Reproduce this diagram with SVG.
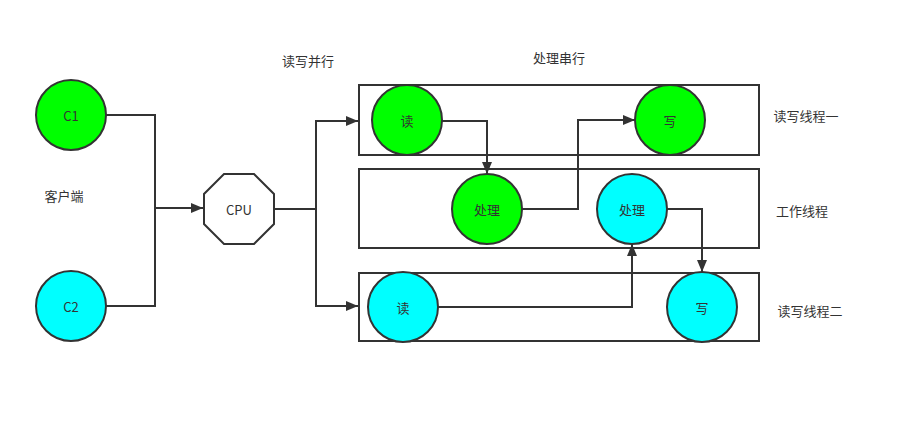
<svg xmlns="http://www.w3.org/2000/svg" width="917" height="428" viewBox="0 0 917 428">
<style>
.t{font-family:"Noto Sans CJK SC","Liberation Sans",sans-serif;font-size:13px;fill:#333;text-anchor:middle;dominant-baseline:central}
.c{stroke:#333;stroke-width:2}
.g{fill:#00ff00}
.b{fill:#00ffff}
.box{fill:none;stroke:#333;stroke-width:2}
.e{fill:none;stroke:#333;stroke-width:2}
</style>
<defs>
<marker id="a" markerUnits="userSpaceOnUse" markerWidth="12" markerHeight="10" viewBox="0 0 12 10" refX="12" refY="5" orient="auto">
<path d="M0,0 L12,5 L0,10 Z" fill="#333"/>
</marker>
</defs>
<rect width="917" height="428" fill="#fff"/>
<g id="labels">
<text class="t" x="308" y="60">读写并行</text>
<text class="t" x="559" y="57">处理串行</text>
<text class="t" x="64" y="195">客户端</text>
<text class="t" x="806" y="115">读写线程一</text>
<text class="t" x="802" y="210">工作线程</text>
<text class="t" x="810" y="310">读写线程二</text>
</g>
<g id="box1"><rect class="box" x="359" y="85" width="400" height="70"/></g>
<g id="box2"><rect class="box" x="359" y="169" width="400" height="79"/></g>
<g id="box3"><rect class="box" x="359" y="273" width="400" height="68"/></g>
<g id="connectors">
<polyline class="e" points="106,115 155,115 155,208"/>
<polyline class="e" points="106,306 155,306 155,208"/>
<line class="e" x1="155" y1="208" x2="203" y2="208" stroke-width="2.5" marker-end="url(#a)"/>
<polyline class="e" points="274,209 316,209"/>
<polyline class="e" points="316,209 316,121 358,121" marker-end="url(#a)"/>
<polyline class="e" points="316,209 316,306 358,306" marker-end="url(#a)"/>
<polyline class="e" points="442,121 487,121 487,174" marker-end="url(#a)"/>
<polyline class="e" points="522,209 578,209 578,120 635,120" marker-end="url(#a)"/>
<polyline class="e" points="438,307 632,307 632,244" marker-end="url(#a)"/>
<polyline class="e" points="667,209 702,209 702,272" marker-end="url(#a)"/>
</g>
<g id="C1"><circle class="c g" cx="71" cy="115" r="35"/><text class="t" x="71" y="115">C1</text></g>
<g id="C2"><circle class="c b" cx="71" cy="306" r="35"/><text class="t" x="71" y="306">C2</text></g>
<g id="CPU"><polygon class="c" fill="#fff" points="224,174 254,174 274,194 274,224 254,244 224,244 204,224 204,194"/><text class="t" x="239" y="209">CPU</text></g>
<g id="read1"><circle class="c g" cx="407" cy="120" r="35"/><text class="t" x="407" y="120">读</text></g>
<g id="write1"><circle class="c g" cx="670" cy="120" r="35"/><text class="t" x="670" y="120">写</text></g>
<g id="proc1"><circle class="c g" cx="487" cy="209" r="35"/><text class="t" x="487" y="209">处理</text></g>
<g id="proc2"><circle class="c b" cx="632" cy="209" r="35"/><text class="t" x="632" y="209">处理</text></g>
<g id="read2"><circle class="c b" cx="403" cy="307" r="35"/><text class="t" x="403" y="307">读</text></g>
<g id="write2"><circle class="c b" cx="702" cy="307" r="35"/><text class="t" x="702" y="307">写</text></g>
</svg>
